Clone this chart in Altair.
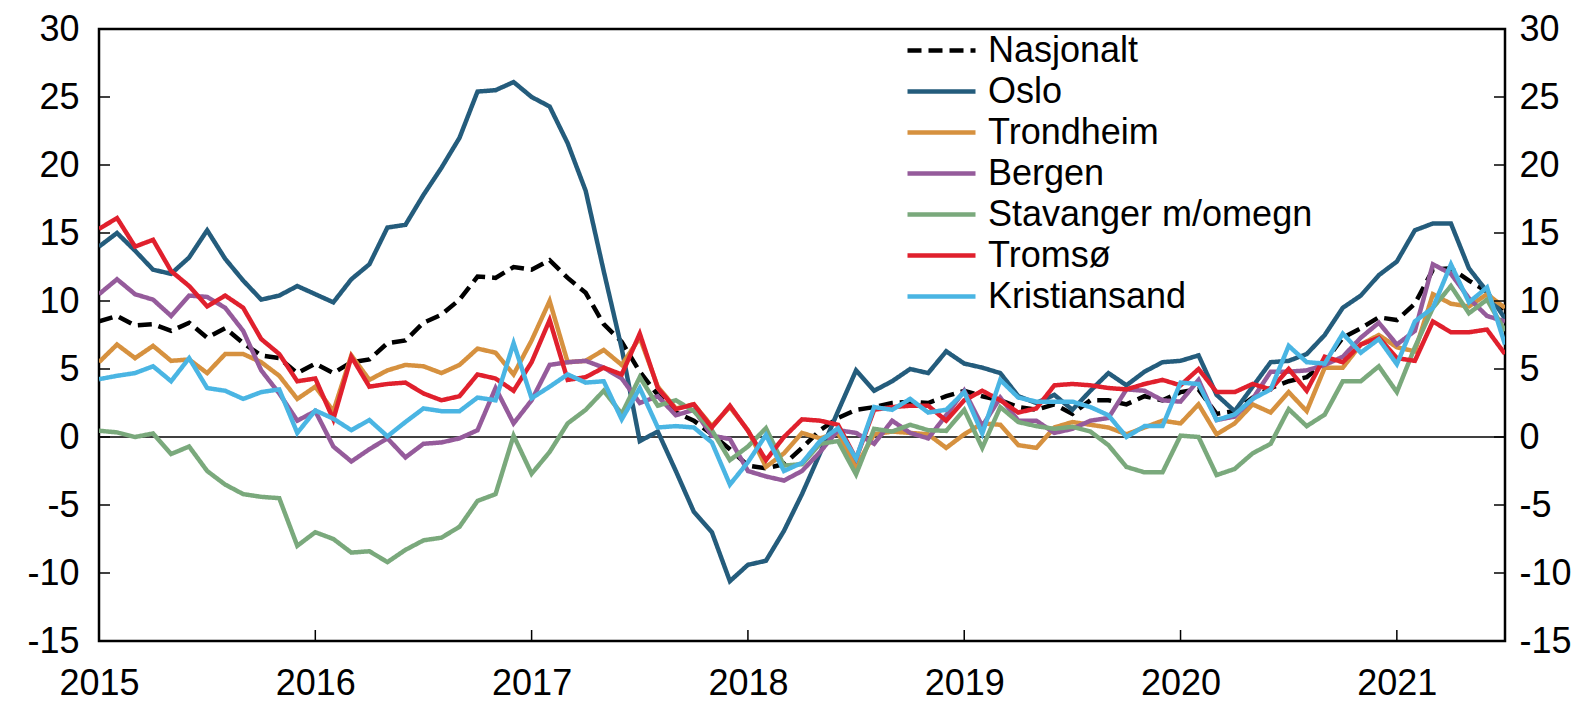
import altair as alt
import pandas as pd

start_year = 2015
year_ticks = [2015, 2016, 2017, 2018, 2019, 2020, 2021]
y_ticks = [-15, -10, -5, 0, 5, 10, 15, 20, 25, 30]

series_names = ["Nasjonalt", "Oslo", "Trondheim", "Bergen",
                "Stavanger m/omegn", "Tromsø", "Kristiansand"]
colors = ["#000000", "#245C7C", "#D6913F", "#955B9B",
          "#7AA97C", "#E0202D", "#4AB5E3"]
dashes = [[14, 7], [1, 0], [1, 0], [1, 0], [1, 0], [1, 0], [1, 0]]

nasjonalt = [8.5, 8.9, 8.2, 8.3, 7.8, 8.4, 7.3, 8.0, 6.9, 6.0,
             5.8, 4.7, 5.4, 4.7, 5.5, 5.7, 6.9, 7.1, 8.4, 9.0,
             10.1, 11.8, 11.7, 12.5, 12.3, 13.0, 11.7, 10.6, 8.3, 7.0,
             4.8, 3.1, 1.8, 1.2, 0.2, -0.9, -2.1, -2.3, -2.0, -0.8,
             0.5, 1.4, 2.0, 2.2, 2.5, 2.6, 2.5, 3.0, 3.4, 3.0,
             2.7, 2.2, 2.0, 2.4, 1.7, 2.7, 2.7, 2.4, 3.0, 2.7,
             3.3, 3.5, 1.7, 1.9, 2.9, 3.6, 4.1, 4.4, 5.5, 7.3,
             8.0, 8.8, 8.6, 9.8, 12.3, 12.4, 11.5, 10.7, 9.0]
oslo = [14.0, 15.0, 13.7, 12.3, 12.0, 13.2, 15.2, 13.1, 11.5, 10.1,
        10.4, 11.1, 10.5, 9.9, 11.6, 12.7, 15.4, 15.6, 17.8, 19.8,
        22.0, 25.4, 25.5, 26.1, 25.0, 24.3, 21.6, 18.1, 12.2, 6.5,
        -0.3, 0.4, -2.5, -5.5, -7.0, -10.6, -9.4, -9.1, -6.9, -4.2,
        -1.2, 1.9, 4.9, 3.4, 4.1, 5.0, 4.7, 6.3, 5.4, 5.1,
        4.7, 3.0, 2.5, 3.1, 2.0, 3.4, 4.7, 3.8, 4.8, 5.5,
        5.6, 6.0, 3.1, 1.9, 3.7, 5.5, 5.6, 6.1, 7.5, 9.5,
        10.4, 11.9, 12.9, 15.2, 15.7, 15.7, 12.4, 10.7, 8.7]
trondheim = [5.5, 6.8, 5.8, 6.7, 5.6, 5.7, 4.7, 6.1, 6.1, 5.5,
             4.5, 2.8, 3.7, 1.9, 6.0, 4.2, 4.9, 5.3, 5.2, 4.7,
             5.3, 6.5, 6.2, 4.6, 7.1, 10.0, 5.5, 5.6, 6.4, 5.3,
             7.3, 3.7, 2.1, 2.4, 0.8, 2.2, 0.5, -2.2, -1.2, 0.3,
             -0.1, 0.3, -2.2, 0.2, 0.4, 0.3, 0.2, -0.8, 0.2, 1.0,
             0.9, -0.6, -0.8, 0.7, 1.1, 0.9, 0.7, 0.2, 0.7, 1.2,
             1.0, 2.4, 0.2, 1.0, 2.4, 1.8, 3.3, 1.9, 5.1, 5.1,
             6.8, 7.5, 6.6, 6.3, 10.5, 9.8, 9.6, 10.5, 9.5]
bergen = [10.5, 11.6, 10.5, 10.1, 8.9, 10.4, 10.3, 9.5, 7.8, 4.9,
          3.2, 1.2, 1.9, -0.7, -1.8, -0.9, -0.1, -1.5, -0.5, -0.4,
          -0.1, 0.5, 3.6, 1.0, 2.7, 5.3, 5.5, 5.6, 5.1, 4.3,
          2.5, 3.0, 1.6, 2.0, 0.1, -0.15, -2.5, -2.9, -3.2, -2.5,
          -1.1, 0.5, 0.3, -0.5, 1.2, 0.3, -0.1, 1.6, 3.4, 0.8,
          2.9, 1.2, 1.2, 0.3, 0.6, 1.2, 1.4, 3.5, 3.4, 2.7,
          2.6, 4.2, 1.25, 1.5, 2.8, 4.8, 4.8, 4.9, 5.3, 5.9,
          7.3, 8.4, 6.8, 7.8, 12.7, 12.0, 10.2, 8.9, 8.5]
stavanger = [0.46, 0.34, 0.0, 0.26, -1.25, -0.7, -2.5, -3.5, -4.2, -4.4,
             -4.5, -8.0, -7.0, -7.5, -8.5, -8.4, -9.2, -8.3, -7.6, -7.4,
             -6.6, -4.7, -4.2, 0.1, -2.7, -1.1, 1.0, 2.0, 3.4, 1.7,
             4.4, 2.3, 2.7, 1.9, 0.5, -1.7, -0.7, 0.65, -2.1, -2.0,
             -0.5, -0.3, -2.75, 0.6, 0.4, 0.9, 0.5, 0.45, 2.0, -0.8,
             2.2, 1.1, 0.8, 0.6, 0.75, 0.4, -0.6, -2.2, -2.6, -2.6,
             0.1, 0.0, -2.8, -2.35, -1.2, -0.5, 2.05, 0.8, 1.65, 4.1,
             4.1, 5.2, 3.3, 6.6, 9.5, 11.1, 9.1, 10.1, 7.8]
tromso = [15.3, 16.1, 14.0, 14.5, 12.2, 11.1, 9.6, 10.4, 9.5, 7.2,
          6.1, 4.1, 4.3, 1.3, 5.9, 3.7, 3.9, 4.0, 3.2, 2.7,
          3.0, 4.6, 4.3, 3.4, 5.5, 8.6, 4.2, 4.4, 5.1, 4.6,
          7.6, 3.6, 2.05, 2.4, 0.7, 2.3, 0.46, -1.7, 0.0, 1.3,
          1.2, 0.9, -1.6, 2.0, 2.2, 2.3, 2.3, 1.2, 2.7, 3.4,
          2.7, 1.8, 2.1, 3.8, 3.9, 3.8, 3.6, 3.5, 3.9, 4.2,
          3.8, 5.0, 3.3, 3.3, 3.9, 3.5, 5.0, 3.4, 5.9, 5.5,
          6.8, 7.3, 5.8, 5.6, 8.5, 7.7, 7.7, 7.9, 6.1]
kristiansand = [4.25, 4.5, 4.7, 5.2, 4.1, 5.8, 3.6, 3.4, 2.8, 3.3,
                3.5, 0.3, 1.95, 1.35, 0.5, 1.25, 0.05, 1.1, 2.1, 1.9,
                1.9, 2.9, 2.7, 6.9, 2.85, 3.7, 4.6, 4.0, 4.1, 1.3,
                3.6, 0.7, 0.8, 0.7, -0.4, -3.5, -1.85, 0.15, -2.5, -1.9,
                -0.3, 0.65, -1.6, 2.2, 2.0, 2.8, 1.8, 2.0, 3.3, 0.25,
                4.2, 2.9, 2.6, 2.6, 2.6, 2.2, 1.6, 0.0, 0.8, 0.8,
                4.0, 3.9, 1.25, 1.65, 2.8, 3.5, 6.7, 5.5, 5.4, 7.6,
                6.2, 7.2, 5.35, 8.5, 9.5, 12.7, 9.9, 11.0, 6.8]

all_series = [nasjonalt, oslo, trondheim, bergen, stavanger, tromso, kristiansand]

rows = []
for name, vals in zip(series_names, all_series):
    for i, v in enumerate(vals):
        rows.append({"t": start_year + i / 12.0, "value": v, "series": name})
df = pd.DataFrame(rows)

W, H = 1406, 612
FONT = "Liberation Sans"
FS = 36
x_scale = alt.Scale(domain=[2015, 2021.5], nice=False, zero=False)
y_scale = alt.Scale(domain=[-15, 30], nice=False, zero=False)

x_axis = alt.Axis(values=year_ticks, format="d", labelFontSize=FS, labelFont=FONT,
                  labelColor="black", ticks=False, tickSize=0, domain=False, grid=False,
                  labelPadding=25, labelFlush=False, labelOverlap=False, title=None)
y_left = alt.Axis(values=y_ticks, labelExpr="'' + datum.value", labelFontSize=FS,
                  labelFont=FONT, labelColor="black", ticks=False, tickSize=0,
                  domain=False, grid=False, labelPadding=20, title=None, orient="left")
y_right = alt.Axis(values=y_ticks, labelExpr="'' + datum.value", labelFontSize=FS,
                   labelFont=FONT, labelColor="black", ticks=False, tickSize=0,
                   domain=False, grid=False, labelPadding=14, title=None, orient="right")

legend = alt.Legend(orient="none", legendX=820, legendY=-1, title=None,
                    labelFontSize=FS, labelFont=FONT, labelColor="black",
                    symbolType="M-1.7,0L1.7,0", symbolSize=1600, symbolStrokeWidth=4.5,
                    rowPadding=0, labelOffset=24, padding=0, labelLimit=0,
                    symbolLimit=0)

color_scale = alt.Scale(domain=series_names, range=colors)
dash_scale = alt.Scale(domain=series_names, range=dashes)

zero = alt.Chart(pd.DataFrame({"y": [0]})).mark_rule(color="black", strokeWidth=1.3).encode(
    y=alt.Y("y:Q", scale=y_scale, axis=None)
)

lines = alt.Chart(df).mark_line(strokeWidth=4.5, clip=True).encode(
    x=alt.X("t:Q", scale=x_scale, axis=x_axis),
    y=alt.Y("value:Q", scale=y_scale, axis=y_left),
    color=alt.Color("series:N", scale=color_scale, legend=legend),
    strokeDash=alt.StrokeDash("series:N", scale=dash_scale, legend=legend),
)

xt = pd.DataFrame({"year": year_ticks})
x_ticks = alt.Chart(xt).mark_rule(color="black", strokeWidth=1.5).encode(
    x=alt.X("year:Q", scale=x_scale, axis=x_axis),
    y=alt.value(H - 11), y2=alt.value(H),
)

yt = pd.DataFrame({"v": y_ticks})
left_ticks = alt.Chart(yt).mark_rule(color="black", strokeWidth=1.5).encode(
    y=alt.Y("v:Q", scale=y_scale, axis=None),
    x=alt.value(0), x2=alt.value(11),
)
right_ticks = alt.Chart(yt).mark_rule(color="black", strokeWidth=1.5).encode(
    y=alt.Y("v:Q", scale=y_scale, axis=y_right),
    x=alt.value(W - 11), x2=alt.value(W),
)

chart = alt.layer(zero, lines, x_ticks, left_ticks, right_ticks).resolve_axis(
    y="independent"
).resolve_scale(y="shared").properties(
    width=W, height=H,
    autosize=alt.AutoSizeParams(type="none"),
    padding={"left": 91, "top": 21, "right": 78, "bottom": 60},
    background="white",
).configure(font=FONT).configure_view(stroke="black", strokeWidth=2.5)

chart.save("out.html", embed_options={"renderer": "svg", "actions": False})
